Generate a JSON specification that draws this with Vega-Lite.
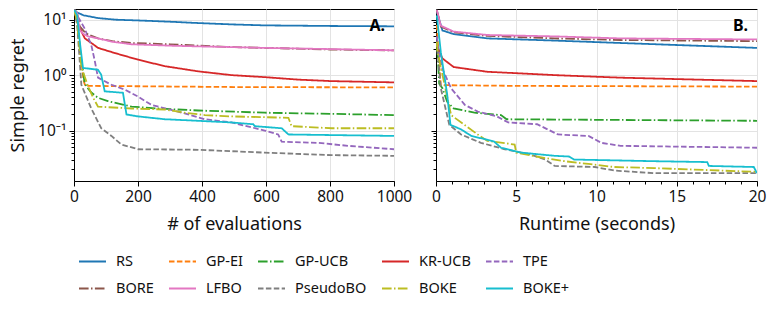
{
  "$schema": "https://vega.github.io/schema/vega-lite/v6.json",
  "background": "white",
  "padding": {"left": 9, "top": 8, "right": 5, "bottom": 5},
  "spacing": 42,
  "bounds": "flush",
  "config": {
    "font": "Noto Sans",
    "view": {"stroke": "black", "strokeWidth": 1},
    "axis": {
      "labelFont": "Noto Sans", "titleFont": "Noto Sans",
      "labelFontSize": 15.5, "titleFontSize": 18, "titleFontWeight": "normal",
      "labelColor": "#111", "titleColor": "#111",
      "domainColor": "black", "tickColor": "black",
      "gridColor": "#e3e3e3", "gridWidth": 1,
      "labelPadding": 3, "labelOverlap": false, "labelFlush": false
    },
    "axisX": {"titlePadding": 11},
    "axisY": {"titlePadding": 10},
    "legend": {
      "labelFont": "Noto Sans", "labelFontSize": 14.5, "labelColor": "#111",
      "symbolType": "stroke", "symbolSize": 729, "symbolStrokeWidth": 2,
      "labelOffset": 9, "columnPadding": 11, "rowPadding": 6, "padding": 4
    }
  },
  "datasets": {
    "curves": [
      {"p":"A","m":"RS","x":1,"y":15},{"p":"A","m":"RS","x":10,"y":13.5},{"p":"A","m":"RS","x":30,"y":12},{"p":"A","m":"RS","x":75,"y":10.7},{"p":"A","m":"RS","x":130,"y":10},{"p":"A","m":"RS","x":200,"y":9.7},{"p":"A","m":"RS","x":300,"y":9.2},{"p":"A","m":"RS","x":388,"y":8.7},{"p":"A","m":"RS","x":500,"y":8.2},{"p":"A","m":"RS","x":596,"y":7.9},{"p":"A","m":"RS","x":700,"y":7.8},{"p":"A","m":"RS","x":805,"y":7.7},{"p":"A","m":"RS","x":1000,"y":7.6},
      {"p":"A","m":"GP-EI","x":1,"y":15},{"p":"A","m":"GP-EI","x":10,"y":10},{"p":"A","m":"GP-EI","x":20,"y":2.5},{"p":"A","m":"GP-EI","x":30,"y":0.8},{"p":"A","m":"GP-EI","x":35,"y":0.64},{"p":"A","m":"GP-EI","x":200,"y":0.63},{"p":"A","m":"GP-EI","x":500,"y":0.61},{"p":"A","m":"GP-EI","x":1000,"y":0.6},
      {"p":"A","m":"GP-UCB","x":1,"y":15},{"p":"A","m":"GP-UCB","x":10,"y":9},{"p":"A","m":"GP-UCB","x":22,"y":2.0},{"p":"A","m":"GP-UCB","x":28,"y":1.2},{"p":"A","m":"GP-UCB","x":32,"y":0.8},{"p":"A","m":"GP-UCB","x":38,"y":0.63},{"p":"A","m":"GP-UCB","x":55,"y":0.48},{"p":"A","m":"GP-UCB","x":75,"y":0.39},{"p":"A","m":"GP-UCB","x":106,"y":0.34},{"p":"A","m":"GP-UCB","x":180,"y":0.27},{"p":"A","m":"GP-UCB","x":263,"y":0.25},{"p":"A","m":"GP-UCB","x":388,"y":0.23},{"p":"A","m":"GP-UCB","x":596,"y":0.21},{"p":"A","m":"GP-UCB","x":805,"y":0.2},{"p":"A","m":"GP-UCB","x":1000,"y":0.19},
      {"p":"A","m":"KR-UCB","x":1,"y":15},{"p":"A","m":"KR-UCB","x":10,"y":12},{"p":"A","m":"KR-UCB","x":13,"y":8},{"p":"A","m":"KR-UCB","x":34,"y":4.6},{"p":"A","m":"KR-UCB","x":60,"y":3.6},{"p":"A","m":"KR-UCB","x":75,"y":3.1},{"p":"A","m":"KR-UCB","x":128,"y":2.5},{"p":"A","m":"KR-UCB","x":200,"y":1.9},{"p":"A","m":"KR-UCB","x":284,"y":1.45},{"p":"A","m":"KR-UCB","x":388,"y":1.17},{"p":"A","m":"KR-UCB","x":492,"y":1.0},{"p":"A","m":"KR-UCB","x":596,"y":0.92},{"p":"A","m":"KR-UCB","x":700,"y":0.83},{"p":"A","m":"KR-UCB","x":805,"y":0.78},{"p":"A","m":"KR-UCB","x":1000,"y":0.74},
      {"p":"A","m":"TPE","x":1,"y":15},{"p":"A","m":"TPE","x":10,"y":12},{"p":"A","m":"TPE","x":33,"y":7},{"p":"A","m":"TPE","x":54,"y":3.5},{"p":"A","m":"TPE","x":65,"y":1.8},{"p":"A","m":"TPE","x":75,"y":0.9},{"p":"A","m":"TPE","x":117,"y":0.67},{"p":"A","m":"TPE","x":158,"y":0.55},{"p":"A","m":"TPE","x":200,"y":0.41},{"p":"A","m":"TPE","x":242,"y":0.29},{"p":"A","m":"TPE","x":325,"y":0.22},{"p":"A","m":"TPE","x":409,"y":0.16},{"p":"A","m":"TPE","x":492,"y":0.14},{"p":"A","m":"TPE","x":596,"y":0.10},{"p":"A","m":"TPE","x":638,"y":0.085},{"p":"A","m":"TPE","x":649,"y":0.063},{"p":"A","m":"TPE","x":763,"y":0.06},{"p":"A","m":"TPE","x":857,"y":0.053},{"p":"A","m":"TPE","x":1000,"y":0.046},
      {"p":"A","m":"BORE","x":1,"y":15},{"p":"A","m":"BORE","x":10,"y":13},{"p":"A","m":"BORE","x":18,"y":7.6},{"p":"A","m":"BORE","x":30,"y":6.3},{"p":"A","m":"BORE","x":44,"y":5.4},{"p":"A","m":"BORE","x":75,"y":4.6},{"p":"A","m":"BORE","x":120,"y":4.1},{"p":"A","m":"BORE","x":180,"y":3.8},{"p":"A","m":"BORE","x":300,"y":3.6},{"p":"A","m":"BORE","x":388,"y":3.4},{"p":"A","m":"BORE","x":500,"y":3.2},{"p":"A","m":"BORE","x":596,"y":3.1},{"p":"A","m":"BORE","x":800,"y":2.9},{"p":"A","m":"BORE","x":1000,"y":2.8},
      {"p":"A","m":"LFBO","x":1,"y":15},{"p":"A","m":"LFBO","x":10,"y":13},{"p":"A","m":"LFBO","x":18,"y":6.5},{"p":"A","m":"LFBO","x":30,"y":5.5},{"p":"A","m":"LFBO","x":44,"y":5.0},{"p":"A","m":"LFBO","x":75,"y":4.6},{"p":"A","m":"LFBO","x":120,"y":4.0},{"p":"A","m":"LFBO","x":180,"y":3.6},{"p":"A","m":"LFBO","x":300,"y":3.4},{"p":"A","m":"LFBO","x":388,"y":3.3},{"p":"A","m":"LFBO","x":500,"y":3.2},{"p":"A","m":"LFBO","x":596,"y":3.1},{"p":"A","m":"LFBO","x":800,"y":2.95},{"p":"A","m":"LFBO","x":1000,"y":2.8},
      {"p":"A","m":"PseudoBO","x":1,"y":15},{"p":"A","m":"PseudoBO","x":10,"y":8},{"p":"A","m":"PseudoBO","x":23,"y":0.67},{"p":"A","m":"PseudoBO","x":54,"y":0.25},{"p":"A","m":"PseudoBO","x":85,"y":0.11},{"p":"A","m":"PseudoBO","x":117,"y":0.08},{"p":"A","m":"PseudoBO","x":148,"y":0.056},{"p":"A","m":"PseudoBO","x":200,"y":0.046},{"p":"A","m":"PseudoBO","x":388,"y":0.045},{"p":"A","m":"PseudoBO","x":596,"y":0.040},{"p":"A","m":"PseudoBO","x":805,"y":0.036},{"p":"A","m":"PseudoBO","x":1000,"y":0.035},
      {"p":"A","m":"BOKE","x":1,"y":15},{"p":"A","m":"BOKE","x":10,"y":9},{"p":"A","m":"BOKE","x":23,"y":1.4},{"p":"A","m":"BOKE","x":44,"y":0.63},{"p":"A","m":"BOKE","x":60,"y":0.39},{"p":"A","m":"BOKE","x":75,"y":0.27},{"p":"A","m":"BOKE","x":180,"y":0.25},{"p":"A","m":"BOKE","x":284,"y":0.24},{"p":"A","m":"BOKE","x":346,"y":0.21},{"p":"A","m":"BOKE","x":409,"y":0.19},{"p":"A","m":"BOKE","x":492,"y":0.18},{"p":"A","m":"BOKE","x":670,"y":0.17},{"p":"A","m":"BOKE","x":680,"y":0.12},{"p":"A","m":"BOKE","x":805,"y":0.11},{"p":"A","m":"BOKE","x":1000,"y":0.11},
      {"p":"A","m":"BOKE+","x":1,"y":15},{"p":"A","m":"BOKE+","x":10,"y":12},{"p":"A","m":"BOKE+","x":18,"y":4.1},{"p":"A","m":"BOKE+","x":28,"y":1.35},{"p":"A","m":"BOKE+","x":75,"y":1.25},{"p":"A","m":"BOKE+","x":85,"y":1.02},{"p":"A","m":"BOKE+","x":96,"y":0.51},{"p":"A","m":"BOKE+","x":153,"y":0.48},{"p":"A","m":"BOKE+","x":164,"y":0.195},{"p":"A","m":"BOKE+","x":200,"y":0.18},{"p":"A","m":"BOKE+","x":284,"y":0.16},{"p":"A","m":"BOKE+","x":388,"y":0.15},{"p":"A","m":"BOKE+","x":492,"y":0.14},{"p":"A","m":"BOKE+","x":560,"y":0.13},{"p":"A","m":"BOKE+","x":565,"y":0.12},{"p":"A","m":"BOKE+","x":649,"y":0.11},{"p":"A","m":"BOKE+","x":670,"y":0.085},{"p":"A","m":"BOKE+","x":1000,"y":0.08},
      {"p":"B","m":"RS","x":0.05,"y":14},{"p":"B","m":"RS","x":0.4,"y":6.4},{"p":"B","m":"RS","x":1.1,"y":5.5},{"p":"B","m":"RS","x":3.2,"y":4.6},{"p":"B","m":"RS","x":7.4,"y":4.2},{"p":"B","m":"RS","x":11.5,"y":3.8},{"p":"B","m":"RS","x":20,"y":3.1},
      {"p":"B","m":"GP-EI","x":0.05,"y":8},{"p":"B","m":"GP-EI","x":0.2,"y":1.5},{"p":"B","m":"GP-EI","x":0.3,"y":0.66},{"p":"B","m":"GP-EI","x":5,"y":0.64},{"p":"B","m":"GP-EI","x":20,"y":0.62},
      {"p":"B","m":"GP-UCB","x":0.05,"y":3},{"p":"B","m":"GP-UCB","x":0.1,"y":2.6},{"p":"B","m":"GP-UCB","x":0.2,"y":0.7},{"p":"B","m":"GP-UCB","x":0.4,"y":0.58},{"p":"B","m":"GP-UCB","x":0.7,"y":0.33},{"p":"B","m":"GP-UCB","x":1.1,"y":0.25},{"p":"B","m":"GP-UCB","x":2.4,"y":0.21},{"p":"B","m":"GP-UCB","x":4.05,"y":0.19},{"p":"B","m":"GP-UCB","x":4.4,"y":0.16},{"p":"B","m":"GP-UCB","x":20,"y":0.15},
      {"p":"B","m":"KR-UCB","x":0.05,"y":3.5},{"p":"B","m":"KR-UCB","x":0.4,"y":2.0},{"p":"B","m":"KR-UCB","x":1.1,"y":1.4},{"p":"B","m":"KR-UCB","x":3.2,"y":1.15},{"p":"B","m":"KR-UCB","x":7.4,"y":1.0},{"p":"B","m":"KR-UCB","x":11.5,"y":0.9},{"p":"B","m":"KR-UCB","x":20,"y":0.78},
      {"p":"B","m":"TPE","x":0.05,"y":5},{"p":"B","m":"TPE","x":0.1,"y":3.4},{"p":"B","m":"TPE","x":0.4,"y":1.3},{"p":"B","m":"TPE","x":0.94,"y":0.58},{"p":"B","m":"TPE","x":1.8,"y":0.29},{"p":"B","m":"TPE","x":2.6,"y":0.22},{"p":"B","m":"TPE","x":3.8,"y":0.18},{"p":"B","m":"TPE","x":4.5,"y":0.14},{"p":"B","m":"TPE","x":6.3,"y":0.13},{"p":"B","m":"TPE","x":7.6,"y":0.085},{"p":"B","m":"TPE","x":9.5,"y":0.08},{"p":"B","m":"TPE","x":10.3,"y":0.06},{"p":"B","m":"TPE","x":11.5,"y":0.053},{"p":"B","m":"TPE","x":20,"y":0.049},
      {"p":"B","m":"BORE","x":0.05,"y":15},{"p":"B","m":"BORE","x":0.3,"y":7.5},{"p":"B","m":"BORE","x":1.1,"y":5.9},{"p":"B","m":"BORE","x":3.2,"y":5.1},{"p":"B","m":"BORE","x":7.4,"y":4.6},{"p":"B","m":"BORE","x":11.5,"y":4.3},{"p":"B","m":"BORE","x":20,"y":4.1},
      {"p":"B","m":"LFBO","x":0.05,"y":15},{"p":"B","m":"LFBO","x":0.3,"y":7.8},{"p":"B","m":"LFBO","x":1.1,"y":6.1},{"p":"B","m":"LFBO","x":3.2,"y":5.3},{"p":"B","m":"LFBO","x":7.4,"y":5.0},{"p":"B","m":"LFBO","x":11.5,"y":4.6},{"p":"B","m":"LFBO","x":20,"y":4.4},
      {"p":"B","m":"PseudoBO","x":0.05,"y":4},{"p":"B","m":"PseudoBO","x":0.1,"y":2.6},{"p":"B","m":"PseudoBO","x":0.3,"y":0.58},{"p":"B","m":"PseudoBO","x":0.83,"y":0.127},{"p":"B","m":"PseudoBO","x":1.56,"y":0.085},{"p":"B","m":"PseudoBO","x":2.8,"y":0.06},{"p":"B","m":"PseudoBO","x":4.3,"y":0.046},{"p":"B","m":"PseudoBO","x":5.9,"y":0.037},{"p":"B","m":"PseudoBO","x":6.8,"y":0.03},{"p":"B","m":"PseudoBO","x":7.4,"y":0.023},{"p":"B","m":"PseudoBO","x":9.9,"y":0.022},{"p":"B","m":"PseudoBO","x":11.1,"y":0.019},{"p":"B","m":"PseudoBO","x":13.6,"y":0.017},{"p":"B","m":"PseudoBO","x":20,"y":0.017},
      {"p":"B","m":"BOKE","x":0.05,"y":4},{"p":"B","m":"BOKE","x":0.1,"y":2.6},{"p":"B","m":"BOKE","x":0.6,"y":0.55},{"p":"B","m":"BOKE","x":0.94,"y":0.19},{"p":"B","m":"BOKE","x":1.77,"y":0.127},{"p":"B","m":"BOKE","x":2.6,"y":0.085},{"p":"B","m":"BOKE","x":3.2,"y":0.065},{"p":"B","m":"BOKE","x":4.9,"y":0.056},{"p":"B","m":"BOKE","x":5.0,"y":0.04},{"p":"B","m":"BOKE","x":6.5,"y":0.033},{"p":"B","m":"BOKE","x":8,"y":0.028},{"p":"B","m":"BOKE","x":9.5,"y":0.025},{"p":"B","m":"BOKE","x":11.1,"y":0.022},{"p":"B","m":"BOKE","x":13.6,"y":0.021},{"p":"B","m":"BOKE","x":17.7,"y":0.019},{"p":"B","m":"BOKE","x":20,"y":0.018},
      {"p":"B","m":"BOKE+","x":0.05,"y":12},{"p":"B","m":"BOKE+","x":0.3,"y":2.6},{"p":"B","m":"BOKE+","x":0.7,"y":0.44},{"p":"B","m":"BOKE+","x":0.9,"y":0.127},{"p":"B","m":"BOKE+","x":1.56,"y":0.105},{"p":"B","m":"BOKE+","x":2.2,"y":0.08},{"p":"B","m":"BOKE+","x":3.6,"y":0.064},{"p":"B","m":"BOKE+","x":4.05,"y":0.049},{"p":"B","m":"BOKE+","x":5.3,"y":0.04},{"p":"B","m":"BOKE+","x":7.4,"y":0.035},{"p":"B","m":"BOKE+","x":8.3,"y":0.034},{"p":"B","m":"BOKE+","x":8.6,"y":0.03},{"p":"B","m":"BOKE+","x":13.6,"y":0.028},{"p":"B","m":"BOKE+","x":16.9,"y":0.027},{"p":"B","m":"BOKE+","x":17,"y":0.023},{"p":"B","m":"BOKE+","x":19.8,"y":0.022},{"p":"B","m":"BOKE+","x":20,"y":0.017}
    ],
    "tags": [{"p":"A","x":1000,"y":7.6,"t":"A."},{"p":"B","x":20,"y":7.6,"t":"B."}]
  },
  "hconcat": [
    {
      "width": 320, "height": 172,
      "layer": [
        {
          "data": {"name": "curves"},
          "transform": [{"filter": "datum.p == 'A'"}],
          "mark": {"type": "line", "strokeWidth": 1.8, "clip": true},
          "encoding": {
            "x": {"field": "x", "type": "quantitative", "title": "# of evaluations",
              "scale": {"domain": [0, 1000], "nice": false, "zero": false},
              "axis": {"values": [0,50,100,150,200,250,300,350,400,450,500,550,600,650,700,750,800,850,900,950,1000],
                "format": "d",
                "labelExpr": "datum.value % 200 == 0 ? datum.label : ''",
                "tickSize": {"condition": {"test": "datum.value % 200 == 0", "value": 5}, "value": 3},
                "gridOpacity": {"condition": {"test": "datum.value % 200 == 0", "value": 1}, "value": 0},
                "labelFlush": false, "labelOverlap": false, "grid": true}},
            "y": {"field": "y", "type": "quantitative", "title": "Simple regret",
              "scale": {"type": "log", "domain": [0.0123, 15.6], "nice": false},
              "axis": {"values": [0.02,0.03,0.04,0.05,0.06,0.07,0.08,0.09,0.1,0.2,0.3,0.4,0.5,0.6,0.7,0.8,0.9,1,2,3,4,5,6,7,8,9,10],
                "labelExpr": "datum.value == 10 ? '10¹' : datum.value == 1 ? '10⁰' : datum.value == 0.1 ? '10⁻¹' : ''",
                "tickSize": {"condition": {"test": "datum.value == 10 || datum.value == 1 || datum.value == 0.1", "value": 5}, "value": 3},
                "gridOpacity": {"condition": {"test": "datum.value == 10 || datum.value == 1 || datum.value == 0.1", "value": 1}, "value": 0},
                "labelOverlap": false, "labelFlush": false, "grid": true}},
            "color": {"field": "m", "type": "nominal", "title": null,
              "scale": {"domain": ["RS","GP-EI","GP-UCB","KR-UCB","TPE","BORE","LFBO","PseudoBO","BOKE","BOKE+"],
                "range": ["#1f77b4","#ff7f0e","#2ca02c","#d62728","#9467bd","#8c564b","#e377c2","#7f7f7f","#bcbd22","#17becf"]},
              "legend": {"orient": "bottom", "columns": 5, "direction": "horizontal", "offset": 9}},
            "strokeDash": {"field": "m", "type": "nominal", "title": null,
              "scale": {"domain": ["RS","GP-EI","GP-UCB","KR-UCB","TPE","BORE","LFBO","PseudoBO","BOKE","BOKE+"],
                "range": [[1,0],[5.5,2.4],[9.6,2.4,1.5,2.4],[1,0],[5.5,2.4],[9.6,2.4,1.5,2.4],[1,0],[5.5,2.4],[9.6,2.4,1.5,2.4],[1,0]]}}
          }
        },
        {
          "data": {"name": "tags"},
          "transform": [{"filter": "datum.p == 'A'"}],
          "mark": {"type": "text", "align": "right", "baseline": "middle", "dx": -9, "fontSize": 16, "fontWeight": "bold", "font": "Noto Sans"},
          "encoding": {
            "x": {"field": "x", "type": "quantitative", "title": "# of evaluations"},
            "y": {"field": "y", "type": "quantitative", "title": "Simple regret"},
            "text": {"field": "t"}
          }
        }
      ]
    },
    {
      "width": 321, "height": 172,
      "resolve": {"axis": {"x": "independent"}},
      "layer": [
        {
          "data": {"name": "curves"},
          "transform": [{"filter": "datum.p == 'B'"}],
          "mark": {"type": "line", "strokeWidth": 1.8, "clip": true},
          "encoding": {
            "x": {"field": "x", "type": "quantitative", "title": "Runtime (seconds)",
              "scale": {"domain": [0, 20], "nice": false, "zero": false},
              "axis": {"values": [0,5,10,15,20], "format": "d", "orient": "bottom", "tickSize": 5,
                "labelFlush": false, "labelOverlap": false, "grid": true}},
            "y": {"field": "y", "type": "quantitative", "title": null,
              "scale": {"type": "log", "domain": [0.0123, 15.6], "nice": false},
              "axis": {"values": [0.02,0.03,0.04,0.05,0.06,0.07,0.08,0.09,0.1,0.2,0.3,0.4,0.5,0.6,0.7,0.8,0.9,1,2,3,4,5,6,7,8,9,10],
                "labels": false,
                "tickSize": {"condition": {"test": "datum.value == 10 || datum.value == 1 || datum.value == 0.1", "value": 5}, "value": 3},
                "gridOpacity": {"condition": {"test": "datum.value == 10 || datum.value == 1 || datum.value == 0.1", "value": 1}, "value": 0},
                "grid": true}},
            "color": {"field": "m", "type": "nominal", "title": null,
              "scale": {"domain": ["RS","GP-EI","GP-UCB","KR-UCB","TPE","BORE","LFBO","PseudoBO","BOKE","BOKE+"],
                "range": ["#1f77b4","#ff7f0e","#2ca02c","#d62728","#9467bd","#8c564b","#e377c2","#7f7f7f","#bcbd22","#17becf"]},
              "legend": null},
            "strokeDash": {"field": "m", "type": "nominal", "title": null,
              "scale": {"domain": ["RS","GP-EI","GP-UCB","KR-UCB","TPE","BORE","LFBO","PseudoBO","BOKE","BOKE+"],
                "range": [[1,0],[5.5,2.4],[9.6,2.4,1.5,2.4],[1,0],[5.5,2.4],[9.6,2.4,1.5,2.4],[1,0],[5.5,2.4],[9.6,2.4,1.5,2.4],[1,0]]},
              "legend": null}
          }
        },
        {
          "data": {"name": "tags"},
          "transform": [{"filter": "datum.p == 'B'"}],
          "mark": {"type": "text", "align": "right", "baseline": "middle", "dx": -9, "fontSize": 16, "fontWeight": "bold", "font": "Noto Sans"},
          "encoding": {
            "x": {"field": "x", "type": "quantitative", "title": null,
              "axis": {"values": [1,2,3,4,6,7,8,9,11,12,13,14,16,17,18,19], "orient": "bottom", "labels": false, "grid": false, "domain": false, "tickSize": 3, "title": null}},
            "y": {"field": "y", "type": "quantitative", "title": null},
            "text": {"field": "t"}
          }
        }
      ]
    }
  ]
}
